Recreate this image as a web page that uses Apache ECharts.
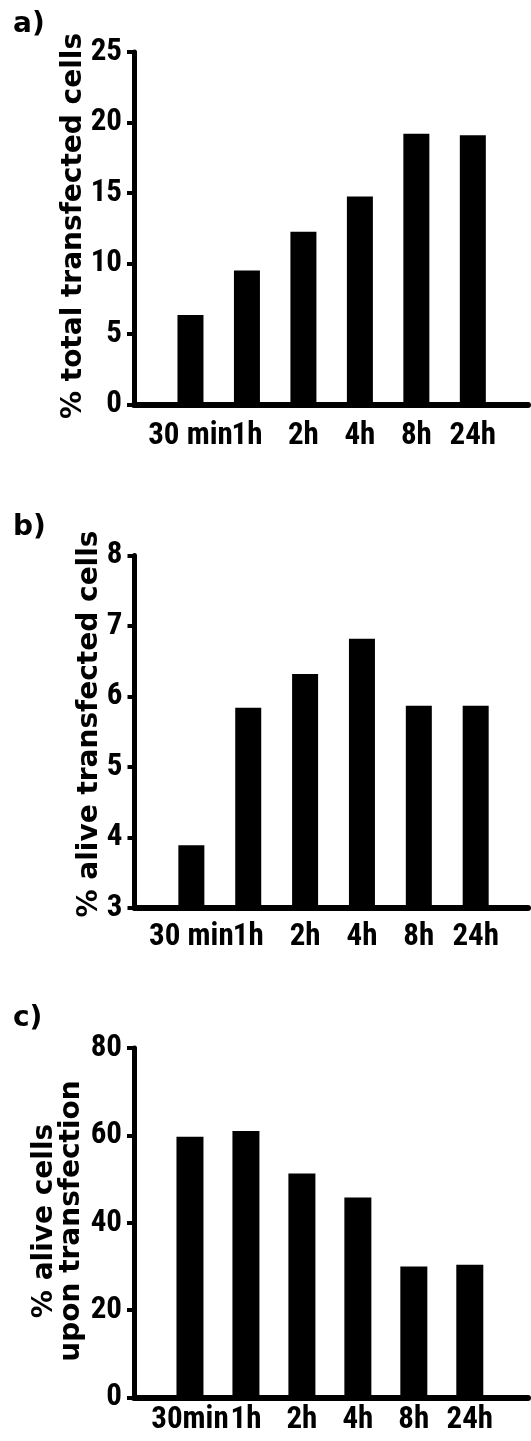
<!DOCTYPE html>
<html>
<head>
<meta charset="utf-8">
<script src="https://cdn.jsdelivr.net/npm/echarts@6/dist/echarts.min.js"></script>
<style>
  html, body { margin: 0; padding: 0; background: #fff; }
  #chart { width: 531px; height: 1441px; }
</style>
</head>
<body>
<div id="chart"></div>
<script>
// ---- data ----
const categoriesAB = ['30 min', '1h', '2h', '4h', '8h', '24h'];
const categoriesC = ['30min', '1h', '2h', '4h', '8h', '24h'];
const totalTransfected = [6.35, 9.5, 12.25, 14.75, 19.2, 19.1];
const aliveTransfected = [3.89, 5.84, 6.32, 6.82, 5.87, 5.87];
const aliveCells = [59.7, 61.0, 51.3, 45.8, 30.0, 30.4];
const panelLabels = ['a)', 'b)', 'c)'];
const yTitles = ['% total transfected cells', '% alive transfected cells', '% alive cells\nupon transfection'];

// ---- chart ----
const tickFont = '"Roboto Condensed", "Open Sans Condensed", "DejaVu Sans Condensed", "Liberation Sans", sans-serif';
const titleFont = '"DejaVu Sans", "Liberation Sans", sans-serif';

function toPoints(vals) { return vals.map((v, i) => [i, v]); }

function xAxisFor(gridIndex, cats, max, margin) {
  return {
    type: 'value', gridIndex: gridIndex, min: -1, max: max, interval: 1,
    axisLine: { show: true, onZero: false, lineStyle: { color: '#000', width: 6 } },
    axisTick: { show: false },
    splitLine: { show: false },
    axisLabel: {
      margin: margin, color: '#000', fontSize: 31, fontWeight: 'bold', fontFamily: tickFont,
      formatter: function (v) {
        return (Number.isInteger(v) && v >= 0 && v < cats.length) ? cats[v] : '';
      }
    }
  };
}
function yAxisFor(gridIndex, min, max, interval) {
  return {
    type: 'value', gridIndex: gridIndex, min: min, max: max, interval: interval,
    axisLine: { show: true, onZero: false, lineStyle: { color: '#000', width: 5 } },
    axisTick: { show: true, inside: false, length: 7, lineStyle: { color: '#000', width: 4 } },
    splitLine: { show: false },
    axisLabel: { margin: 12, color: '#000', fontSize: 31, fontWeight: 'bold', fontFamily: tickFont }
  };
}

const chart = echarts.init(document.getElementById('chart'), null, { renderer: 'canvas' });
chart.setOption({
  animation: false,
  backgroundColor: '#fff',
  grid: [
    { left: 134, top: 52, right: 0, height: 352.5 },
    { left: 134.5, top: 555.5, right: 0, height: 352.5 },
    { left: 134, top: 1048, right: 0, height: 349.5 }
  ],
  xAxis: [
    xAxisFor(0, categoriesAB, 5.977, 16),
    xAxisFor(1, categoriesAB, 5.92, 14),
    xAxisFor(2, categoriesC, 6.04, 7)
  ],
  yAxis: [yAxisFor(0, 0, 25, 5), yAxisFor(1, 3, 8, 1), yAxisFor(2, 0, 80, 20)],
  series: [
    { type: 'bar', xAxisIndex: 0, yAxisIndex: 0, barWidth: 26, itemStyle: { color: '#000' }, data: toPoints(totalTransfected) },
    { type: 'bar', xAxisIndex: 1, yAxisIndex: 1, barWidth: 26, itemStyle: { color: '#000' }, data: toPoints(aliveTransfected) },
    { type: 'bar', xAxisIndex: 2, yAxisIndex: 2, barWidth: 27, itemStyle: { color: '#000' }, data: toPoints(aliveCells) }
  ],
  graphic: [
    { type: 'text', x: 13, y: 25, style: { text: panelLabels[0], font: 'bold 28px ' + titleFont, fill: '#000', align: 'left', verticalAlign: 'middle' } },
    { type: 'text', x: 13, y: 528, style: { text: panelLabels[1], font: 'bold 28px ' + titleFont, fill: '#000', align: 'left', verticalAlign: 'middle' } },
    { type: 'text', x: 13, y: 1019, style: { text: panelLabels[2], font: 'bold 28px ' + titleFont, fill: '#000', align: 'left', verticalAlign: 'middle' } },
    { type: 'text', x: 74, y: 226, rotation: Math.PI / 2, style: { text: yTitles[0], font: 'bold 28px ' + titleFont, fill: '#000', align: 'center', verticalAlign: 'middle' } },
    { type: 'text', x: 90, y: 724, rotation: Math.PI / 2, style: { text: yTitles[1], font: 'bold 28px ' + titleFont, fill: '#000', align: 'center', verticalAlign: 'middle' } },
    { type: 'text', x: 58, y: 1221, rotation: Math.PI / 2, style: { text: yTitles[2], font: 'bold 28px ' + titleFont, lineHeight: 27, fill: '#000', align: 'center', verticalAlign: 'middle' } }
  ]
});
</script>
</body>
</html>
